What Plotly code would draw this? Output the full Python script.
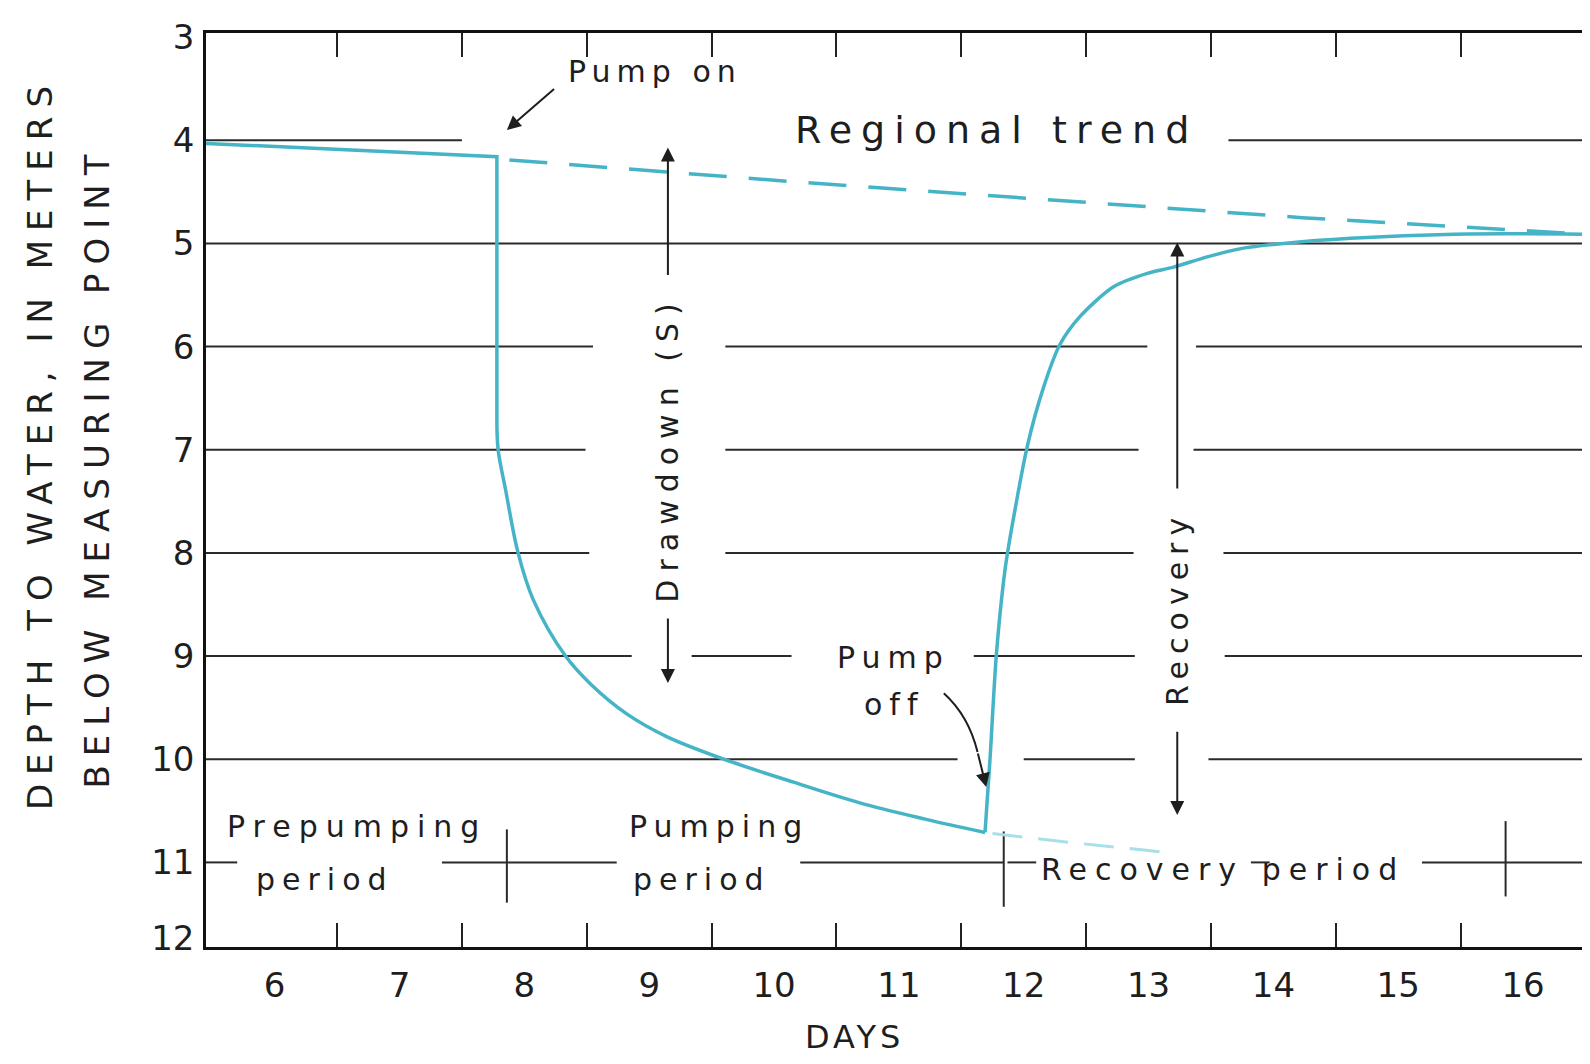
import plotly.graph_objects as go

# ---------------- data ----------------
# observed hydrograph: depth to water (m) vs day, in three pieces
prepump_days = [5.45, 6.30, 7.78, 7.78]
prepump_depth = [4.03, 4.08, 4.16, 6.72]

pumping_days = [7.78, 7.79, 7.85, 7.95, 8.07, 8.33, 8.53, 8.82, 9.14, 9.60,
                10.15, 10.68, 11.21, 11.69]
pumping_depth = [6.72, 7.00, 7.39, 8.00, 8.45, 9.00, 9.27, 9.56, 9.78, 10.00,
                 10.22, 10.42, 10.58, 10.71]

recovery_days = [11.69, 11.73, 11.78, 11.84, 11.87, 12.03, 12.16, 12.29, 12.45,
                 12.72, 12.99, 13.20, 13.47, 13.74, 14.08, 14.62, 15.45, 16.48]
recovery_depth = [10.71, 10.00, 9.00, 8.26, 8.00, 6.96, 6.39, 5.98, 5.71,
                  5.42, 5.29, 5.23, 5.13, 5.05, 5.00, 4.95, 4.91, 4.91]

# regional trend (dashed extrapolation)
trend_days = [7.88, 10.14, 14.23, 16.48]
trend_depth = [4.19, 4.40, 4.75, 4.91]

# extrapolated drawdown after pump off (faint dashed)
ext_days = [11.75, 12.40, 13.20]
ext_depth = [10.72, 10.81, 10.91]

# axis labelling
day_labels = [6, 7, 8, 9, 10, 11, 12, 13, 14, 15, 16]
day_bounds = [6.5, 7.5, 8.5, 9.5, 10.5, 11.5, 12.5, 13.5, 14.5, 15.5]
depth_labels = ["3", "4", "5", "6", "7", "8", "9", "10", "11", "12"]
depth_values = [3, 4, 5, 6, 7, 8, 9, 10, 11, 12]

# period boundaries (pump on, pump off, end of recovery)
period_bounds = [7.86, 11.84, 15.86]

# ---------------- layout helpers ----------------
X_RANGE = [5.45, 16.48]
Y_RANGE = [11.82, 2.96]          # reversed: depth increases downward
# the original chart squeezes its "3" and "12" labels onto the frame
depth_tick_pos = [min(max(v, Y_RANGE[1] + 0.005), Y_RANGE[0] - 0.09) for v in depth_values]

# horizontal rule segments (interrupted around the lettering)
grid_segments = {
    4: [(X_RANGE[0], 7.50), (13.64, X_RANGE[1])],
    5: [(X_RANGE[0], X_RANGE[1])],
    6: [(X_RANGE[0], 8.55), (9.61, 12.99), (13.38, X_RANGE[1])],
    7: [(X_RANGE[0], 8.49), (9.61, 12.92), (13.36, X_RANGE[1])],
    8: [(X_RANGE[0], 8.52), (9.61, 12.88), (13.60, X_RANGE[1])],
    9: [(X_RANGE[0], 8.86), (9.34, 10.14), (11.60, 12.89), (13.61, X_RANGE[1])],
    10: [(X_RANGE[0], 11.47), (12.00, 12.89), (13.48, X_RANGE[1])],
    11: [(X_RANGE[0], 5.70), (7.34, 8.74), (10.21, 11.84), (11.87, 12.10),
         (13.82, 13.97), (15.19, X_RANGE[1])],
}
bound_extents = [(10.68, 11.39), (10.70, 11.43), (10.60, 11.33)]

FONT = "DejaVu Sans"
INK = "#1e1e1e"
CYAN = "#45b4c6"

# the page body has an 8 px default margin; the figure is sized to fit the window
FIG_W, FIG_H = 1582, 1048

def spaced(txt, px=7):
    return f'<span style="letter-spacing:{px}px">{txt}</span>'

fig = go.Figure()

fig.add_trace(go.Scatter(x=trend_days, y=trend_depth, mode="lines",
                         line=dict(color=CYAN, width=3.5, dash="38px,22px"),
                         hoverinfo="skip", showlegend=False))
fig.add_trace(go.Scatter(x=ext_days, y=ext_depth, mode="lines",
                         line=dict(color="#a8dfe8", width=3, dash="30px,16px"),
                         hoverinfo="skip", showlegend=False))
fig.add_trace(go.Scatter(x=prepump_days, y=prepump_depth, mode="lines",
                         line=dict(color=CYAN, width=3.5),
                         hoverinfo="skip", showlegend=False))
fig.add_trace(go.Scatter(x=pumping_days, y=pumping_depth, mode="lines",
                         line=dict(color=CYAN, width=3.5, shape="spline", smoothing=1.0),
                         hoverinfo="skip", showlegend=False))
fig.add_trace(go.Scatter(x=recovery_days, y=recovery_depth, mode="lines",
                         line=dict(color=CYAN, width=3.5, shape="spline", smoothing=0.8),
                         hoverinfo="skip", showlegend=False))
# carrier trace for the top tick axis
fig.add_trace(go.Scatter(x=[day_bounds[0]], y=[4], xaxis="x2", mode="markers",
                         marker=dict(opacity=0), hoverinfo="skip", showlegend=False))

shapes = []
for yv, segs in grid_segments.items():
    for x0, x1 in segs:
        shapes.append(dict(type="line", xref="x", yref="y", x0=x0, x1=x1, y0=yv, y1=yv,
                           line=dict(color="#2a2a2a", width=2), layer="below"))
for xb, (ya, yb) in zip(period_bounds, bound_extents):
    shapes.append(dict(type="line", xref="x", yref="y", x0=xb, x1=xb, y0=ya, y1=yb,
                       line=dict(color="#2a2a2a", width=2), layer="below"))
# curved shaft of the "Pump off" pointer
shapes.append(dict(type="path", xref="x", yref="y",
                   path="M 11.36,9.36 Q 11.56,9.58 11.63,9.93",
                   line=dict(color="#1e1e1e", width=2)))

ann = []
def text(x, y, t, size=30, angle=0, xanchor="center", sp=7):
    ann.append(dict(x=x, y=y, xref="x", yref="y", text=spaced(t, sp), showarrow=False,
                    textangle=angle, xanchor=xanchor, yanchor="middle",
                    font=dict(family=FONT, size=size, color=INK)))

def arrow(xt, yt, xs, ys):
    ann.append(dict(x=xt, y=yt, ax=xs, ay=ys, xref="x", yref="y", axref="x", ayref="y",
                    text="", showarrow=True, arrowhead=2, arrowsize=1.4, arrowwidth=2,
                    arrowcolor=INK, standoff=0, startstandoff=0))

text(8.33, 3.33, "Pump on", size=30, xanchor="left", sp=6)
text(11.78, 3.90, "Regional trend", size=38, sp=9)
text(9.15, 6.99, "Drawdown (S)", size=30, angle=-90, sp=8)
text(13.23, 8.54, "Recovery", size=30, angle=-90, sp=7)
text(10.96, 9.01, "Pump", size=30, sp=7)
text(10.96, 9.47, "off", size=30, sp=7)
text(6.66, 10.65, "Prepumping", size=30, sp=8)
text(6.40, 11.17, "period", size=30, sp=7)
text(9.56, 10.65, "Pumping", size=30, sp=7)
text(9.42, 11.17, "period", size=30, sp=7)
text(13.60, 11.07, "Recovery period", size=30, sp=8)

arrow(7.86, 3.90, 8.25, 3.49)      # pump on
arrow(9.15, 4.07, 9.15, 5.32)      # drawdown up
arrow(9.15, 9.26, 9.15, 8.62)      # drawdown down
arrow(13.23, 4.99, 13.23, 7.39)    # recovery up
arrow(13.23, 10.54, 13.23, 9.72)   # recovery down
arrow(11.70, 10.27, 11.63, 9.93)   # pump off (head of curved pointer)

# axis titles
ann.append(dict(x=-0.1205, y=0.5503, xref="paper", yref="paper", showarrow=False,
                text=spaced("DEPTH TO WATER, IN METERS", 9), textangle=-90,
                xanchor="center", yanchor="middle",
                font=dict(family=FONT, size=34, color=INK)))
ann.append(dict(x=-0.0792, y=0.5257, xref="paper", yref="paper", showarrow=False,
                text=spaced("BELOW MEASURING POINT", 9), textangle=-90,
                xanchor="center", yanchor="middle",
                font=dict(family=FONT, size=34, color=INK)))
ann.append(dict(x=0.4713, y=-0.098, xref="paper", yref="paper", showarrow=False,
                text=spaced("DAYS", 4), xanchor="center", yanchor="middle",
                font=dict(family=FONT, size=32, color=INK)))

fig.update_layout(
    width=FIG_W, height=FIG_H,
    margin=dict(l=198, r=7, t=25, b=109),
    paper_bgcolor="white", plot_bgcolor="white",
    showlegend=False,
    shapes=shapes, annotations=ann,
    xaxis=dict(range=X_RANGE, tickmode="array", tickvals=day_labels,
               ticktext=[str(d) for d in day_labels], ticks="",
               showline=True, linecolor="#111", linewidth=2.5, mirror=True,
               showgrid=False, zeroline=False, ticklabelstandoff=6, automargin=False,
               tickfont=dict(family=FONT, size=34, color=INK),
               minor=dict(tickmode="array", tickvals=day_bounds, ticks="inside",
                          ticklen=24, tickwidth=2, tickcolor="#222", showgrid=False)),
    xaxis2=dict(overlaying="x", matches="x", side="top", tickmode="array",
                tickvals=day_bounds, ticks="inside", ticklen=24, tickwidth=2,
                tickcolor="#222", showticklabels=False, showgrid=False,
                showline=False, zeroline=False, automargin=False),
    yaxis=dict(range=Y_RANGE, tickmode="array", tickvals=depth_tick_pos,
               ticktext=depth_labels, ticks="", showline=True, linecolor="#111",
               linewidth=2.5, mirror=True, showgrid=False, zeroline=False,
               ticklabelstandoff=2, automargin=False,
               tickfont=dict(family=FONT, size=34, color=INK)),
)

fig.write_html("out.html")
